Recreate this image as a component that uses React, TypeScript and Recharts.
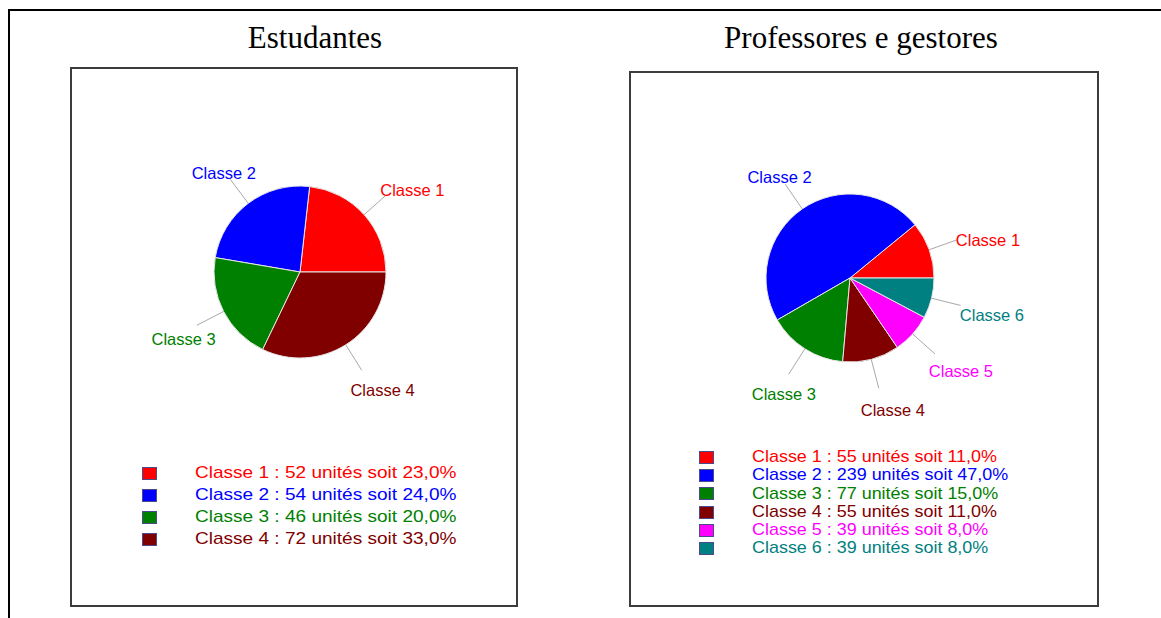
import { PieChart, Pie, Cell } from "recharts";

const classes = ["Classe 1", "Classe 2", "Classe 3", "Classe 4", "Classe 5", "Classe 6"];
const colors = ["#ff0000", "#0000ff", "#008000", "#800000", "#ff00ff", "#008080"];

const titles = ["Estudantes", "Professores e gestores"];

const studentUnits = [52, 54, 46, 72];
const studentPercents = ["23,0%", "24,0%", "20,0%", "33,0%"];

const staffUnits = [55, 239, 77, 55, 39, 39];
const staffPercents = ["11,0%", "47,0%", "15,0%", "11,0%", "8,0%", "8,0%"];

const RAD = Math.PI / 180;

// label with a short grey leader line, text pushed out along the slice direction
function renderLabel(props: any) {
  const { cx, cy, midAngle, outerRadius, index } = props;
  const cos = Math.cos(-midAngle * RAD);
  const sin = Math.sin(-midAngle * RAD);
  const sx = cx + outerRadius * cos;
  const sy = cy + outerRadius * sin;
  const ex = cx + (outerRadius + 30) * cos;
  const ey = cy + (outerRadius + 30) * sin;
  const tx = ex + cos * 24 + 8;
  const ty = ey + sin * 16 + 6;
  return (
    <g key={`lbl-${index}`}>
      <line x1={sx} y1={sy} x2={ex} y2={ey} stroke="#a8a8a8" strokeWidth={1} />
      <text
        x={tx}
        y={ty}
        textAnchor="middle"
        dominantBaseline="central"
        fill={colors[index]}
        fontSize={16.5}
        fontFamily='"Liberation Sans", Arial, sans-serif'
      >
        {classes[index]}
      </text>
    </g>
  );
}

interface ClassPieProps {
  units: number[];
  width: number;
  height: number;
  cx: number;
  cy: number;
  radius: number;
}

function ClassPie({ units, width, height, cx, cy, radius }: ClassPieProps) {
  const data = units.map((u, i) => ({ name: classes[i], value: u }));
  return (
    <PieChart width={width} height={height} margin={{ top: 0, right: 0, bottom: 0, left: 0 }}>
      <Pie
        data={data}
        dataKey="value"
        nameKey="name"
        cx={cx}
        cy={cy}
        outerRadius={radius}
        startAngle={0}
        endAngle={360}
        stroke="#e6e6e6"
        strokeWidth={1}
        label={renderLabel}
        labelLine={false}
        isAnimationActive={false}
      >
        {data.map((d, i) => (
          <Cell key={d.name} fill={colors[i]} />
        ))}
      </Pie>
    </PieChart>
  );
}

interface ClassLegendProps {
  units: number[];
  percents: string[];
  left: number;
  top: number;
  rowGap: number;
  stretch: number;
}

function ClassLegend({ units, percents, left, top, rowGap, stretch }: ClassLegendProps) {
  return (
    <div style={{ position: "absolute", left, top, fontFamily: '"Liberation Sans", Arial, sans-serif', fontSize: 17 }}>
      {units.map((u, i) => (
        <div key={i} style={{ position: "relative", height: rowGap, display: "flex", alignItems: "center" }}>
          <span
            style={{
              display: "inline-block",
              width: 15,
              height: 13,
              background: colors[i],
              border: "1px solid #4a4a8c",
              boxSizing: "border-box",
            }}
          />
          <span
            style={{
              position: "absolute",
              left: 53,
              color: colors[i],
              whiteSpace: "nowrap",
              transform: `scaleX(${stretch})`,
              transformOrigin: "left center",
              lineHeight: `${rowGap}px`,
            }}
          >
            {`${classes[i]} : ${u} unités soit ${percents[i]}`}
          </span>
        </div>
      ))}
    </div>
  );
}

const titleStyle = {
  position: "absolute" as const,
  top: 22,
  width: 400,
  textAlign: "center" as const,
  fontFamily: '"Liberation Serif", "Times New Roman", serif',
  fontSize: 31,
  lineHeight: "31px",
  color: "#000",
};

export default function App() {
  return (
    <div style={{ position: "absolute", left: 0, top: 0, width: 1161, height: 618, background: "#fff", overflow: "hidden" }}>
      <div style={{ position: "absolute", left: 8, top: 9, width: 1153, height: 2, background: "#000" }} />
      <div style={{ position: "absolute", left: 8, top: 9, width: 2, height: 609, background: "#000" }} />

      <div style={{ ...titleStyle, left: 115 }}>{titles[0]}</div>
      <div style={{ ...titleStyle, left: 661 }}>{titles[1]}</div>

      <div style={{ position: "absolute", left: 70, top: 67, width: 448, height: 540, border: "2px solid #3c3c3c", boxSizing: "border-box" }} />
      <div style={{ position: "absolute", left: 629, top: 71, width: 470, height: 536, border: "2px solid #3c3c3c", boxSizing: "border-box" }} />

      <div style={{ position: "absolute", left: 70, top: 67 }}>
        <ClassPie units={studentUnits} width={448} height={400} cx={230} cy={205} radius={86} />
      </div>
      <div style={{ position: "absolute", left: 629, top: 71 }}>
        <ClassPie units={staffUnits} width={470} height={400} cx={221} cy={207} radius={84} />
      </div>

      <ClassLegend units={studentUnits} percents={studentPercents} left={142} top={462} rowGap={22} stretch={1.12} />
      <ClassLegend units={staffUnits} percents={staffPercents} left={699} top={448} rowGap={18.3} stretch={1.055} />
    </div>
  );
}
